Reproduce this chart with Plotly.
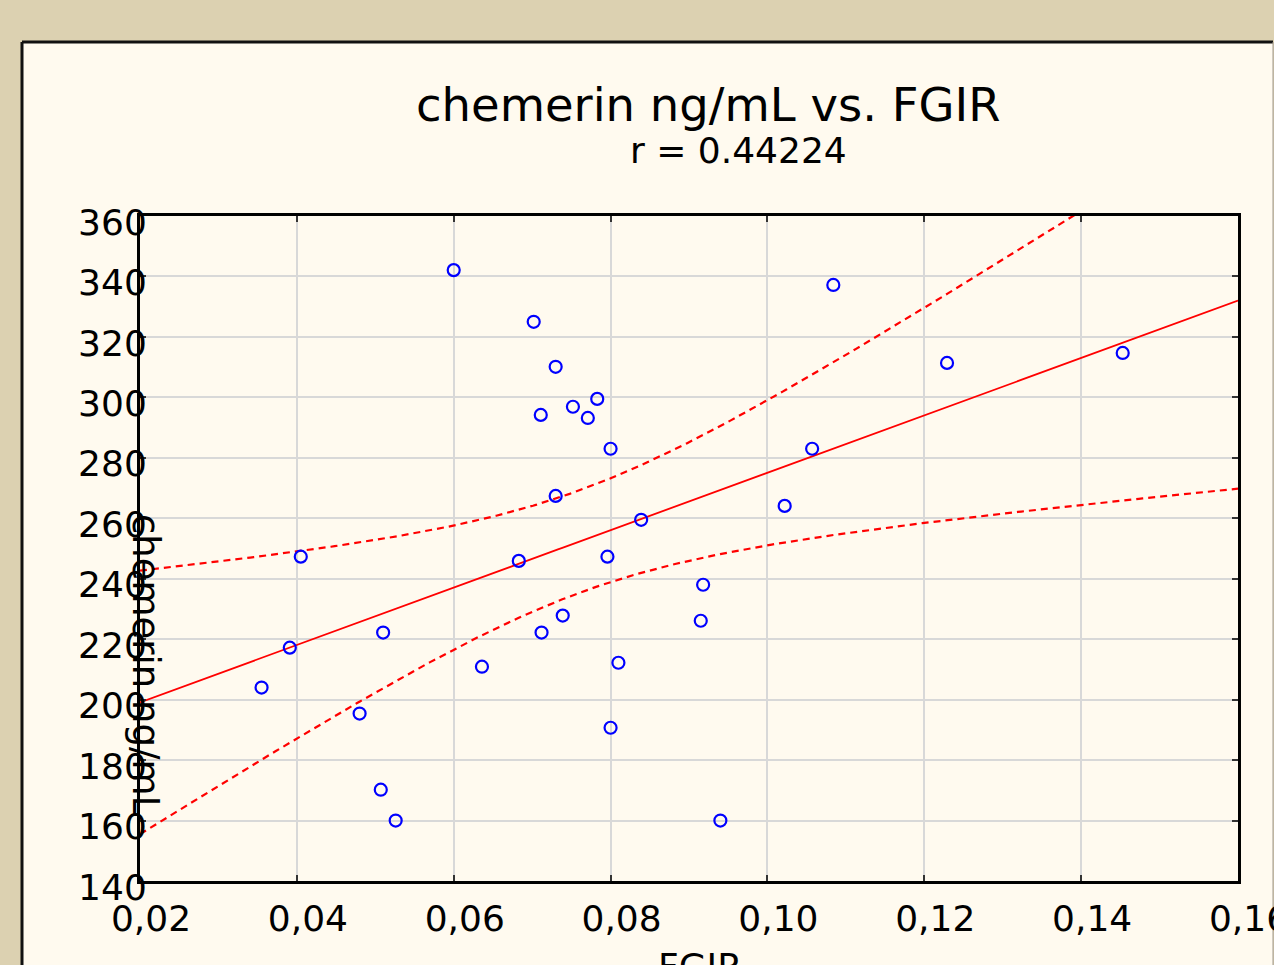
import numpy as np
import plotly.graph_objects as go

# Data
fgir = [0.0600, 0.0702, 0.0730, 0.0711, 0.0752, 0.0771, 0.0783, 0.0800,
        0.1084, 0.1229, 0.1453, 0.1057, 0.1022, 0.0730, 0.0839, 0.0683,
        0.0796, 0.0405, 0.0918, 0.0739, 0.0915, 0.0712, 0.0510, 0.0391,
        0.0810, 0.0636, 0.0355, 0.0480, 0.0800, 0.0507, 0.0526, 0.0940]
chemerin = [342.1, 325.0, 310.1, 294.2, 296.9, 293.2, 299.5, 283.0,
            337.2, 311.4, 314.7, 283.0, 264.1, 267.4, 259.5, 245.9,
            247.3, 247.3, 238.0, 227.8, 226.1, 222.2, 222.2, 217.2,
            212.2, 210.9, 204.0, 195.4, 190.7, 170.2, 160.0, 160.0]

x_ticks = [0.02, 0.04, 0.06, 0.08, 0.10, 0.12, 0.14, 0.16]
x_ticklabels = ["0,02", "0,04", "0,06", "0,08", "0,10", "0,12", "0,14", "0,16"]
y_ticks = [140, 160, 180, 200, 220, 240, 260, 280, 300, 320, 340, 360]

title_text = "chemerin ng/mL vs. FGIR"
subtitle_text = "r = 0.44224"
x_title = "FGIR"
y_title = "chemerin ng/mL"

# Regression and 95% confidence band for the mean
x = np.array(fgir)
y = np.array(chemerin)
n = len(x)
b, a = np.polyfit(x, y, 1)
resid = y - (a + b * x)
s = np.sqrt(np.sum(resid ** 2) / (n - 2))
sxx = np.sum((x - x.mean()) ** 2)
t_crit = 2.0423
xs = np.linspace(0.02, 0.16, 300)
ys = a + b * xs
hw = t_crit * s * np.sqrt(1.0 / n + (xs - x.mean()) ** 2 / sxx)

W, H = 1274, 965
L, R, T, B = 140, 36, 216, 84
pw, ph = W - L - R, H - T - B

def px(xp):
    return (xp - L) / pw

def py(yp):
    return (H - B - yp) / ph

fig = go.Figure()
fig.add_trace(go.Scatter(x=xs, y=ys + hw, mode="lines",
                         line=dict(color="#FF0000", width=2.2, dash="7px,5px"),
                         hoverinfo="skip", showlegend=False))
fig.add_trace(go.Scatter(x=xs, y=ys - hw, mode="lines",
                         line=dict(color="#FF0000", width=2.2, dash="7px,5px"),
                         hoverinfo="skip", showlegend=False))
fig.add_trace(go.Scatter(x=xs, y=ys, mode="lines",
                         line=dict(color="#FF0000", width=1.8),
                         hoverinfo="skip", showlegend=False))
fig.add_trace(go.Scatter(x=fgir, y=chemerin, mode="markers",
                         marker=dict(symbol="circle-open", size=12, color="#0000FF",
                                     line=dict(width=2.2, color="#0000FF")),
                         showlegend=False))

shapes = [
    dict(type="rect", xref="paper", yref="paper", layer="below",
         x0=px(22), x1=px(1273), y0=py(1000), y1=py(42),
         fillcolor="#FFFAEF", line=dict(width=0)),
    dict(type="line", xref="paper", yref="paper", layer="below",
         x0=px(22), x1=px(1273), y0=py(42), y1=py(42),
         line=dict(color="#111111", width=3)),
    dict(type="line", xref="paper", yref="paper", layer="below",
         x0=px(22), x1=px(22), y0=py(42), y1=py(1000),
         line=dict(color="#111111", width=3)),
    dict(type="line", xref="paper", yref="paper", layer="below",
         x0=px(1273), x1=px(1273), y0=py(42), y1=py(1000),
         line=dict(color="#A09A90", width=1)),
]

font_main = "DejaVu Sans, Verdana, sans-serif"
annotations = [
    dict(text=title_text, xref="paper", yref="paper", x=px(709), y=py(105),
         xanchor="center", yanchor="middle", showarrow=False,
         font=dict(family=font_main, size=46.5, color="#000000")),
    dict(text=subtitle_text, xref="paper", yref="paper", x=px(738), y=py(150),
         xanchor="center", yanchor="middle", showarrow=False,
         font=dict(family=font_main, size=36, color="#000000")),
    dict(text=y_title, xref="paper", yref="paper", x=px(146), y=py(665),
         xanchor="center", yanchor="middle", textangle=90, showarrow=False,
         font=dict(family=font_main, size=37, color="#000000")),
    dict(text=x_title, xref="paper", yref="paper", x=px(700), y=py(966),
         xanchor="center", yanchor="middle", showarrow=False,
         font=dict(family=font_main, size=36, color="#000000")),
]

fig.update_layout(
    width=W, height=H,
    margin=dict(l=L, r=R, t=T, b=B, pad=0, autoexpand=False),
    paper_bgcolor="#DCD1B1",
    plot_bgcolor="#FFFFFF",
    shapes=shapes,
    annotations=annotations,
    showlegend=False,
    font=dict(family=font_main, color="#000000"),
)
fig.update_xaxes(
    range=[0.02, 0.16], tickvals=x_ticks, ticktext=x_ticklabels,
    showgrid=True, gridcolor="#D8D8D8", gridwidth=2,
    showline=True, linecolor="#000000", linewidth=3, mirror="ticks",
    ticks="inside", ticklen=6, tickwidth=2, tickcolor="#333333",
    tickfont=dict(family=font_main, size=36, color="#000000"),
    ticklabelstandoff=4, ticklabelshift=11, ticklabeloverflow="allow",
    automargin=False, zeroline=False,
)
fig.update_yaxes(
    range=[140, 360], tickvals=y_ticks,
    showgrid=True, gridcolor="#D8D8D8", gridwidth=2,
    showline=True, linecolor="#000000", linewidth=3, mirror="ticks",
    ticks="inside", ticklen=6, tickwidth=2, tickcolor="#333333",
    tickfont=dict(family=font_main, size=36, color="#000000"),
    ticklabelstandoff=-17, ticklabelshift=6, ticklabeloverflow="allow",
    automargin=False, zeroline=False,
)

fig.write_html("out.html", config={"displayModeBar": False},
               post_script="document.body.style.margin='0px';")
